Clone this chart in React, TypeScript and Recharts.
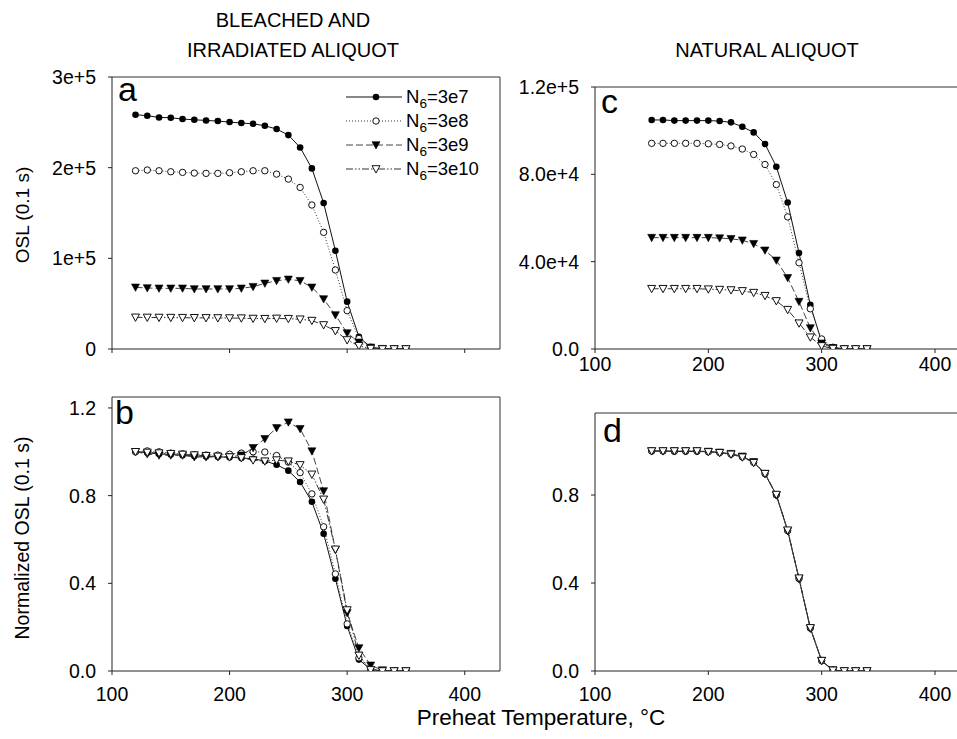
import React from "react";
import { LineChart, Line, XAxis, YAxis, ReferenceLine } from "recharts";

// preheat temperatures (°C)
const tempsBleached = [120, 130, 140, 150, 160, 170, 180, 190, 200, 210, 220, 230, 240, 250, 260, 270, 280, 290, 300, 310, 320, 330, 340, 350];
const tempsNatural = [150, 160, 170, 180, 190, 200, 210, 220, 230, 240, 250, 260, 270, 280, 290, 300, 310, 320, 330, 340];

// panel a: bleached + irradiated, OSL counts
const oslA_3e7 = [258400, 257300, 255400, 255100, 253600, 252800, 252100, 251400, 250300, 249200, 248400, 246200, 242600, 235900, 222300, 199200, 161000, 108400, 52200, 13500, 1800, 300, 0, 0];
const oslA_3e8 = [196600, 197400, 196600, 195500, 194800, 194000, 193700, 193700, 194400, 195500, 196600, 196600, 192900, 187400, 178200, 158800, 128600, 87100, 42300, 11500, 2000, 300, 0, 0];
const oslA_3e9 = [68000, 67300, 66900, 66900, 66900, 66200, 66200, 66200, 66200, 66900, 68700, 72400, 75300, 76800, 75300, 68000, 55100, 37500, 17600, 7400, 1800, 300, 0, 0];
const oslA_3e10 = [34900, 34800, 34700, 34600, 34500, 34400, 34300, 34200, 34100, 34000, 33600, 33400, 33700, 33400, 32800, 31300, 26500, 20000, 9900, 3500, 500, 0, 0, 0];

// panel b: normalized
const normB_3e7 = [1.0, 0.996, 0.99, 0.988, 0.984, 0.981, 0.979, 0.977, 0.975, 0.972, 0.968, 0.958, 0.941, 0.914, 0.862, 0.772, 0.626, 0.421, 0.205, 0.052, 0.007, 0.001, 0, 0];
const normB_3e8 = [1.0, 1.004, 1.0, 0.994, 0.991, 0.987, 0.985, 0.985, 0.989, 0.994, 1.0, 0.999, 0.983, 0.953, 0.905, 0.808, 0.658, 0.443, 0.215, 0.06, 0.01, 0.001, 0, 0];
const normB_3e9 = [1.0, 0.99, 0.984, 0.984, 0.984, 0.976, 0.976, 0.976, 0.976, 0.984, 1.018, 1.059, 1.109, 1.135, 1.105, 1.003, 0.821, 0.553, 0.265, 0.105, 0.026, 0.004, 0, 0];
const normB_3e10 = [1.0, 0.997, 0.994, 0.991, 0.988, 0.985, 0.982, 0.979, 0.976, 0.972, 0.962, 0.957, 0.962, 0.957, 0.94, 0.897, 0.783, 0.555, 0.278, 0.071, 0.005, 0, 0, 0];

// panel c: natural aliquot, OSL counts
const oslC_3e7 = [104900, 104900, 104600, 104600, 104600, 104600, 104400, 103800, 101800, 99200, 93900, 83500, 67100, 44000, 20200, 3100, 800, 0, 0, 0];
const oslC_3e8 = [94200, 94200, 94200, 94200, 94200, 94000, 93700, 93000, 91600, 89100, 84500, 75300, 60500, 39500, 18400, 4600, 800, 0, 0, 0];
const oslC_3e9 = [51000, 51000, 51000, 51000, 51000, 51000, 50800, 50500, 49800, 48200, 45200, 40600, 32600, 21700, 9600, 2600, 500, 0, 0, 0];
const oslC_3e10 = [27600, 27600, 27600, 27600, 27600, 27400, 27200, 27000, 26600, 25800, 24400, 22000, 18000, 11800, 5400, 1400, 200, 0, 0, 0];

// panel d: normalized
const normD_3e7 = [1.0, 1.0, 0.998, 0.998, 0.998, 0.997, 0.993, 0.986, 0.975, 0.95, 0.896, 0.8, 0.639, 0.42, 0.194, 0.045, 0.004, 0, 0, 0];
const normD_3e8 = [1.0, 1.0, 1.0, 1.0, 1.0, 0.997, 0.993, 0.986, 0.973, 0.948, 0.898, 0.801, 0.638, 0.42, 0.196, 0.048, 0.004, 0, 0, 0];
const normD_3e9 = [1.0, 1.0, 1.0, 1.0, 1.0, 0.998, 0.994, 0.988, 0.976, 0.951, 0.897, 0.799, 0.637, 0.419, 0.193, 0.047, 0.004, 0, 0, 0];
const normD_3e10 = [1.0, 1.0, 1.0, 1.0, 1.0, 0.996, 0.992, 0.985, 0.972, 0.947, 0.897, 0.802, 0.64, 0.422, 0.196, 0.047, 0.003, 0, 0, 0];

const seriesNames = ["3e7", "3e8", "3e9", "3e10"];
const xTicks = [100, 200, 300, 400];
const ticksA = [0, 100000, 200000, 300000];
const labelsA = ["0", "1e+5", "2e+5", "3e+5"];
const ticksB = [0, 0.4, 0.8, 1.2];
const labelsB = ["0.0", "0.4", "0.8", "1.2"];
const ticksC = [0, 40000, 80000, 120000];
const labelsC = ["0.0", "4.0e+4", "8.0e+4", "1.2e+5"];
const ticksD = [0, 0.4, 0.8];
const labelsD = ["0.0", "0.4", "0.8"];

const toRows = (temps: number[], cols: number[][]) =>
  temps.map((t, i) => ({ t, s0: cols[0][i], s1: cols[1][i], s2: cols[2][i], s3: cols[3][i] }));

const dataA = toRows(tempsBleached, [oslA_3e7, oslA_3e8, oslA_3e9, oslA_3e10]);
const dataB = toRows(tempsBleached, [normB_3e7, normB_3e8, normB_3e9, normB_3e10]);
const dataC = toRows(tempsNatural, [oslC_3e7, oslC_3e8, oslC_3e9, oslC_3e10]);
const dataD = toRows(tempsNatural, [normD_3e7, normD_3e8, normD_3e9, normD_3e10]);

const FONT = "'Liberation Sans', Arial, sans-serif";
const W = 957;
const H = 739;

type Kind = "fcircle" | "ocircle" | "ftri" | "otri";
const kinds: Kind[] = ["fcircle", "ocircle", "ftri", "otri"];
const dashes = [undefined, "1 2", "7 3", "7 2 1.5 2 1.5 2"];
const lineColors = ["#111", "#333", "#444", "#333"];

function Marker({ kind, cx, cy }: { kind: Kind; cx: number; cy: number }) {
  if (kind === "fcircle") return <circle cx={cx} cy={cy} r={3.3} fill="#000" />;
  if (kind === "ocircle") return <circle cx={cx} cy={cy} r={3.2} fill="#fff" stroke="#111" strokeWidth={1} />;
  const pts = `${cx - 4},${cy - 3.3} ${cx + 4},${cy - 3.3} ${cx},${cy + 4}`;
  if (kind === "ftri") return <polygon points={pts} fill="#000" stroke="#000" strokeWidth={0.6} />;
  return <polygon points={pts} fill="#fff" stroke="#111" strokeWidth={1} />;
}

const makeDot = (kind: Kind) => (props: any) => {
  const { cx, cy, index } = props;
  if (cx == null || cy == null) return <g key={`${kind}-${index}`} />;
  return (
    <g key={`${kind}-${index}`}>
      <Marker kind={kind} cx={cx} cy={cy} />
    </g>
  );
};

type PanelProps = {
  data: any[];
  box: { l: number; t: number; r: number; b: number };
  xMax: number;
  yMax: number;
  yTicks: number[];
  yLabels: string[];
  showXLabels: boolean;
  xGap: number;
  rightBorder: boolean;
  width: number;
};

function Panel({ data, box, xMax, yMax, yTicks, yLabels, showXLabels, xGap, rightBorder, width }: PanelProps) {
  const yAxisW = 80;
  const xAxisH = 40;
  const tickStyle = { fontSize: 19.5, fill: "#000", fontFamily: FONT };
  return (
    <div style={{ position: "absolute", left: 0, top: 0 }}>
      <LineChart
        width={width}
        height={H}
        data={data}
        margin={{ top: box.t, left: box.l - yAxisW, right: width - box.r, bottom: H - box.b - xAxisH }}
      >
        <XAxis
          dataKey="t"
          type="number"
          domain={[100, xMax]}
          ticks={xTicks}
          allowDataOverflow
          height={xAxisH}
          tickSize={4}
          tickMargin={xGap}
          stroke="#222"
          tick={tickStyle}
          tickFormatter={(v: number) => (showXLabels ? String(v) : "")}
        />
        <YAxis
          type="number"
          domain={[0, yMax]}
          ticks={yTicks}
          allowDataOverflow
          width={yAxisW}
          tickSize={4}
          tickMargin={12}
          stroke="#222"
          tick={tickStyle}
          tickFormatter={(v: number) => yLabels[yTicks.indexOf(v)] ?? ""}
        />
        <ReferenceLine y={yMax} stroke="#333" strokeWidth={1} ifOverflow="visible" />
        {rightBorder && <ReferenceLine x={xMax} stroke="#333" strokeWidth={1} ifOverflow="visible" />}
        {kinds.map((k, i) => (
          <Line
            key={k}
            type="linear"
            dataKey={`s${i}`}
            stroke={lineColors[i]}
            strokeWidth={1}
            strokeDasharray={dashes[i]}
            dot={makeDot(k)}
            activeDot={false}
            isAnimationActive={false}
          />
        ))}
      </LineChart>
    </div>
  );
}

function Overlay() {
  const txt = { fontFamily: FONT, fill: "#000" } as const;
  const legendRows = [97, 121, 145, 169];
  return (
    <svg width={W} height={H} style={{ position: "absolute", left: 0, top: 0, pointerEvents: "none" }}>
      <text x={293} y={27} textAnchor="middle" fontSize={20} {...txt}>BLEACHED AND</text>
      <text x={293} y={57} textAnchor="middle" fontSize={20} {...txt}>IRRADIATED ALIQUOT</text>
      <text x={767} y={57} textAnchor="middle" fontSize={20} {...txt}>NATURAL ALIQUOT</text>
      <text transform="translate(29,215) rotate(-90)" textAnchor="middle" fontSize={19} {...txt}>OSL (0.1 s)</text>
      <text transform="translate(29,538) rotate(-90)" textAnchor="middle" fontSize={19.5} {...txt}>Normalized OSL (0.1 s)</text>
      <text x={541} y={725} textAnchor="middle" fontSize={22.5} {...txt}>Preheat Temperature, °C</text>
      <text x={118} y={101} fontSize={34} {...txt}>a</text>
      <text x={115} y={424} fontSize={34} {...txt}>b</text>
      <text x={601} y={113} fontSize={34} {...txt}>c</text>
      <text x={603} y={442} fontSize={34} {...txt}>d</text>
      {seriesNames.map((name, i) => {
        const y = legendRows[i];
        return (
          <g key={name}>
            <line x1={346} x2={402} y1={y} y2={y} stroke={lineColors[i]} strokeWidth={1} strokeDasharray={dashes[i]} />
            <Marker kind={kinds[i]} cx={376} cy={y} />
            <text x={406} y={y + 6} fontSize={18.5} {...txt}>
              N<tspan fontSize={13.5} dy={5}>6</tspan>
              <tspan dy={-5}>={name}</tspan>
            </text>
          </g>
        );
      })}
    </svg>
  );
}

export default function App() {
  return (
    <div style={{ position: "absolute", left: 0, top: 0, width: W, height: H, overflow: "hidden", background: "#fff" }}>
      <Panel data={dataA} box={{ l: 112, t: 77, r: 500, b: 349 }} xMax={430} yMax={300000} yTicks={ticksA} yLabels={labelsA} showXLabels={false} xGap={4} rightBorder width={W} />
      <Panel data={dataB} box={{ l: 112, t: 397, r: 500, b: 671 }} xMax={430} yMax={1.25} yTicks={ticksB} yLabels={labelsB} showXLabels xGap={12} rightBorder width={W} />
      <Panel data={dataC} box={{ l: 595, t: 87, r: 969, b: 349 }} xMax={430} yMax={120000} yTicks={ticksC} yLabels={labelsC} showXLabels xGap={4} rightBorder={false} width={1000} />
      <Panel data={dataD} box={{ l: 595, t: 413, r: 969, b: 671 }} xMax={430} yMax={1.173} yTicks={ticksD} yLabels={labelsD} showXLabels xGap={12} rightBorder={false} width={1000} />
      <Overlay />
    </div>
  );
}
